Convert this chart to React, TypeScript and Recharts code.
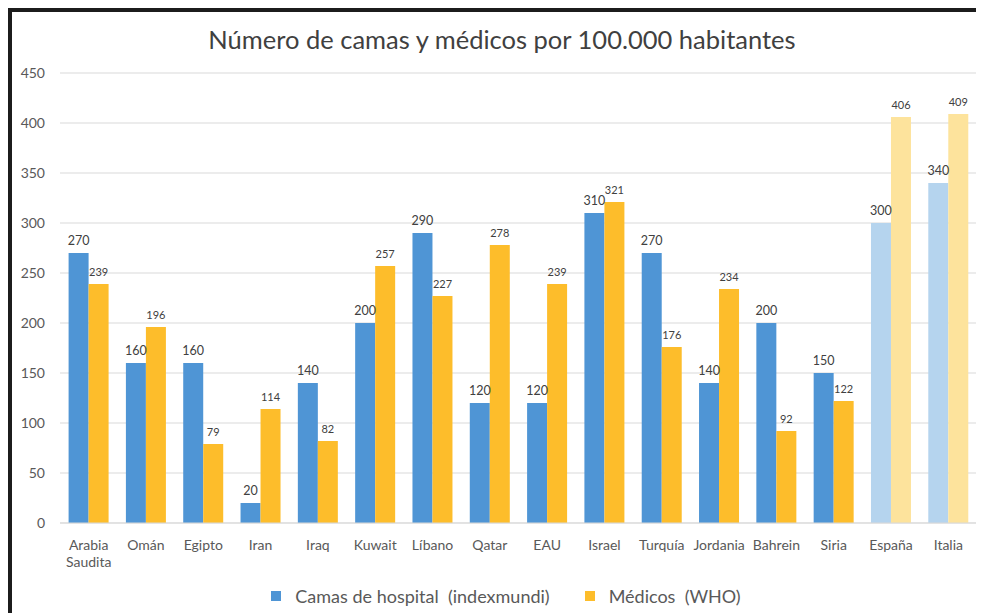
import { BarChart, Bar, XAxis, YAxis, CartesianGrid, LabelList, Legend, Cell } from "recharts"

const paises = [
	"Arabia Saudita",
	"Omán",
	"Egipto",
	"Iran",
	"Iraq",
	"Kuwait",
	"Líbano",
	"Qatar",
	"EAU",
	"Israel",
	"Turquía",
	"Jordania",
	"Bahrein",
	"Siria",
	"España",
	"Italia",
]
const camas = [270, 160, 160, 20, 140, 200, 290, 120, 120, 310, 270, 140, 200, 150, 300, 340]
const medicos = [239, 196, 79, 114, 82, 257, 227, 278, 239, 321, 176, 234, 92, 122, 406, 409]
// paises de referencia, dibujados en tono claro
const referencia = ["España", "Italia"]
const yTicks = [0, 50, 100, 150, 200, 250, 300, 350, 400, 450]

const data = paises.map((pais, i) => ({ pais, camas: camas[i], medicos: medicos[i] }))

const font = "Lato, 'Open Sans', sans-serif"
const azul = "#4f95d5"
const azulClaro = "#b5d4ee"
const amarillo = "#fdbd2b"
const amarilloClaro = "#fde39c"

function PaisTick({ x, y, payload }: any) {
	const lines = String(payload.value).split(" ")
	return (
		<text x={x} y={y} textAnchor="middle" fill="#595959" fontSize={14} fontFamily={font}>
			{lines.map((l, i) => (
				<tspan key={i} x={x} dy={i === 0 ? 19 : 17}>
					{l}
				</tspan>
			))}
		</text>
	)
}

function Leyenda({ payload }: any) {
	return (
		<div style={{ display: "flex", justifyContent: "center", fontFamily: font, fontSize: 18, color: "#595959", paddingLeft: 20 }}>
			{(payload || []).map((item: any, i: number) => (
				<div key={i} style={{ display: "flex", alignItems: "center", marginLeft: i === 0 ? 0 : 35 }}>
					<span style={{ width: 10, height: 10, background: item.color, marginRight: 14, display: "inline-block" }} />
					<span style={{ whiteSpace: "pre" }}>{item.value}</span>
				</div>
			))}
		</div>
	)
}

function App() {
	return (
		<div
			style={{
				position: "relative",
				width: 968,
				height: 601,
				borderTop: "4px solid #1c1c1c",
				borderLeft: "4px solid #1c1c1c",
				background: "#fff",
			}}
		>
			<div
				style={{
					position: "absolute",
					top: 12,
					left: 6,
					width: 968,
					textAlign: "center",
					fontFamily: font,
					fontSize: 25.5,
					color: "#404040",
				}}
			>
				Número de camas y médicos por 100.000 habitantes
			</div>
			<BarChart width={968} height={601} data={data} margin={{ top: 61, right: 3, left: 0, bottom: 0 }} barCategoryGap="15%" barGap={0}>
				<CartesianGrid vertical={false} stroke="#d9d9d9" />
				<XAxis dataKey="pais" height={90} tickLine={false} axisLine={{ stroke: "#d9d9d9" }} tick={<PaisTick />} interval={0} />
				<YAxis
					width={48}
					domain={[0, 450]}
					ticks={yTicks}
					tickLine={false}
					axisLine={false}
					tickMargin={9}
					tick={{ fill: "#595959", fontSize: 14, fontFamily: font }}
				/>
				<Legend
					layout="horizontal"
					verticalAlign="middle"
					align="center"
					wrapperStyle={{ top: 573, left: 0, width: 968 }}
					content={<Leyenda />}
				/>
				<Bar dataKey="camas" name="Camas de hospital  (indexmundi)" fill={azul} isAnimationActive={false}>
					{data.map((d, i) => (
						<Cell key={i} fill={referencia.includes(d.pais) ? azulClaro : azul} />
					))}
					<LabelList dataKey="camas" position="top" offset={8} fill="#404040" fontSize={12.5} fontFamily={font} />
				</Bar>
				<Bar dataKey="medicos" name="Médicos  (WHO)" fill={amarillo} isAnimationActive={false}>
					{data.map((d, i) => (
						<Cell key={i} fill={referencia.includes(d.pais) ? amarilloClaro : amarillo} />
					))}
					<LabelList dataKey="medicos" position="top" offset={8} fill="#404040" fontSize={11} fontFamily={font} />
				</Bar>
			</BarChart>
		</div>
	)
}

export default App
